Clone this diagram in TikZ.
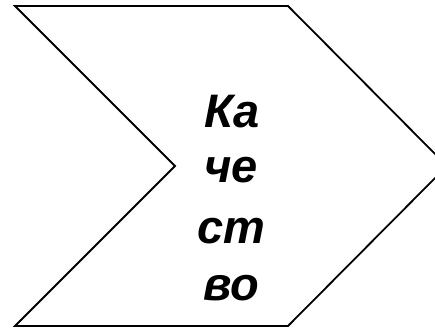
\documentclass[tikz,border=0pt]{standalone}
\usepackage{fontspec}
\setmainfont{Liberation Sans}
\begin{document}
\begin{tikzpicture}[x=1pt,y=-1pt,
  lbl/.style={anchor=base,inner sep=0pt,font=\fontsize{47}{55}\selectfont\bfseries\itshape}]
\useasboundingbox (0,0) rectangle (435,329);
\clip (0,0) rectangle (435,329);
\draw[line width=1.8pt,line join=miter] (15,6) -- (288,6) -- (447,166) -- (288,326) -- (15,326) -- (175,166) -- cycle;
\node[lbl] (t1) at (232,127) {Ка};
\node[lbl] (t2) at (231,182) {че};
\node[lbl] (t3) at (231,243) {ст};
\node[lbl] (t4) at (231,300) {во};
\end{tikzpicture}
\end{document}
